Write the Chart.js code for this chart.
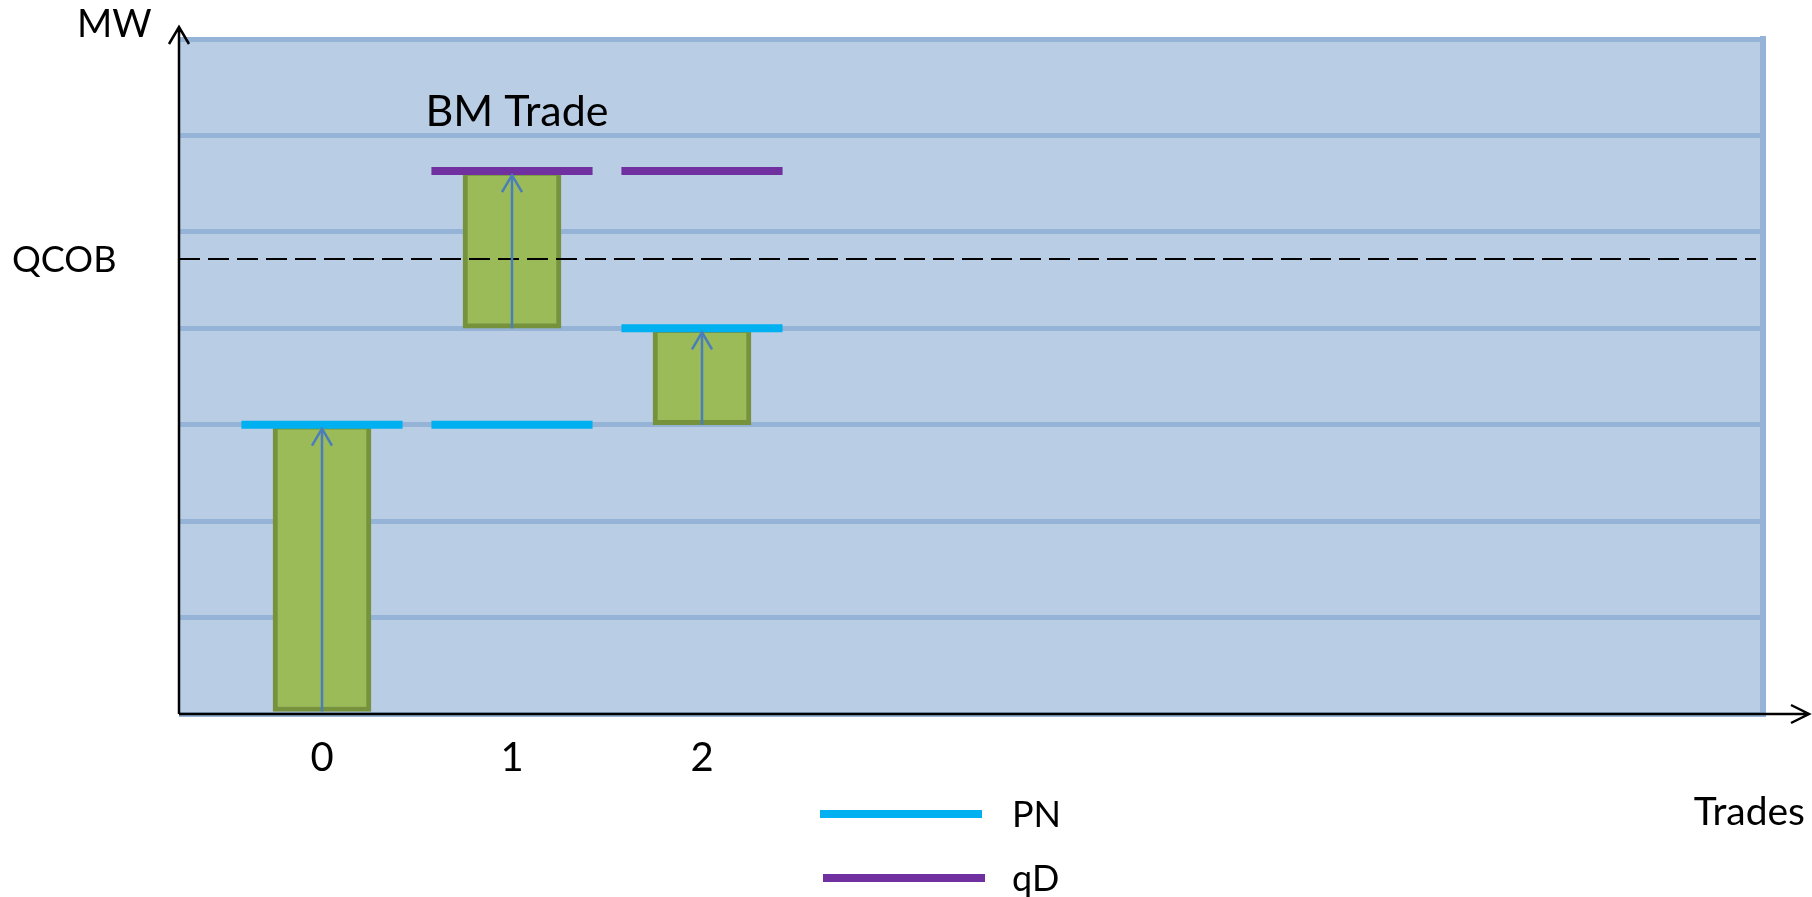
<!DOCTYPE html>
<html>
<head>
<meta charset="utf-8">
<script src="https://cdn.jsdelivr.net/npm/chart.js@4.4.1/dist/chart.umd.min.js"></script>
<style>
  html, body { margin: 0; padding: 0; background: #ffffff; }
</style>
</head>
<body>
<canvas id="trade-chart" width="1812" height="897"></canvas>
<script>
// data
const trades = [0, 1, 2];
const tickLabels = ['0', '1', '2'];
const pnValues = [3, 3, 4];
const qdValues = [null, 5.63, 5.63];
const bmLow = [0, 4, 3];
const bmHigh = [3, 5.63, 4];
const qcobLevel = 4.72;

// styles
const FONT = 'Lato';
const segHalf = 0.424;
const pnColor = '#00B0F0';
const qdColor = '#7030A0';

function segments(values) {
    const pts = [];
    trades.forEach((t, i) => {
        if (values[i] === null) return;
        pts.push({ x: t - segHalf, y: values[i] });
        pts.push({ x: t + segHalf, y: values[i] });
        pts.push({ x: t + 0.5, y: null });
    });
    return pts;
}

function text(ctx, str, x, y, size, align) {
    ctx.font = size + 'px ' + FONT;
    ctx.fillStyle = '#000000';
    ctx.textAlign = align || 'left';
    ctx.textBaseline = 'alphabetic';
    ctx.fillText(str, x, y);
}

const decorPlugin = {
    id: 'decor',
    beforeDraw(chart) {
        const { ctx, chartArea: a } = chart;
        ctx.save();
        ctx.fillStyle = '#ffffff';
        ctx.fillRect(0, 0, chart.width, chart.height);
        ctx.fillStyle = '#B9CDE5';
        ctx.fillRect(a.left, a.top, a.right - a.left, a.bottom - a.top);
        ctx.restore();
    },
    beforeDatasetsDraw(chart) {
        const { ctx, chartArea: a } = chart;
        ctx.save();
        ctx.strokeStyle = '#95B3D7';
        ctx.lineWidth = 6;
        ctx.beginPath();
        ctx.moveTo(a.right - 3, a.top - 3);
        ctx.lineTo(a.right - 3, a.bottom);
        ctx.stroke();
        ctx.restore();
    },
    afterDatasetsDraw(chart) {
        const { ctx, chartArea: a, scales } = chart;
        ctx.save();

        // QCOB dashed level
        const qy = Math.round(scales.y.getPixelForValue(qcobLevel));
        ctx.strokeStyle = '#000000';
        ctx.lineWidth = 2;
        ctx.setLineDash([21, 8]);
        ctx.beginPath();
        ctx.moveTo(a.left, qy);
        ctx.lineTo(a.right - 10, qy);
        ctx.stroke();
        ctx.setLineDash([]);

        // arrows inside BM trade bars
        const bars = chart.getDatasetMeta(0).data;
        ctx.strokeStyle = '#4A7EBB';
        ctx.lineWidth = 2.5;
        bars.forEach(bar => {
            const p = bar.getProps(['x', 'y', 'base'], true);
            const bottom = Math.max(p.y, p.base);
            const tip = Math.min(p.y, p.base) + 4;
            ctx.beginPath();
            ctx.moveTo(p.x, bottom);
            ctx.lineTo(p.x, tip);
            ctx.stroke();
            ctx.beginPath();
            ctx.moveTo(p.x - 10, tip + 17);
            ctx.lineTo(p.x, tip);
            ctx.lineTo(p.x + 10, tip + 17);
            ctx.stroke();
        });

        // axes with arrowheads
        ctx.strokeStyle = '#000000';
        ctx.lineWidth = 2.5;
        ctx.beginPath();
        ctx.moveTo(a.left, a.bottom);
        ctx.lineTo(a.left, 27);
        ctx.moveTo(a.left - 10, 44);
        ctx.lineTo(a.left, 27);
        ctx.lineTo(a.left + 10, 44);
        ctx.stroke();
        ctx.beginPath();
        ctx.moveTo(a.left, a.bottom);
        ctx.lineTo(1809, a.bottom);
        ctx.moveTo(1791, a.bottom - 9);
        ctx.lineTo(1809, a.bottom);
        ctx.lineTo(1791, a.bottom + 9);
        ctx.stroke();

        // labels
        text(ctx, 'MW', 77, 37, 38);
        text(ctx, 'QCOB', 12, qy + 13, 36);
        text(ctx, 'Trades', 1805, 825, 39, 'right');
        const b1 = bars[1].getProps(['x', 'y'], true);
        text(ctx, 'BM Trade', b1.x + 5, b1.y - 45, 43, 'center');

        // legend
        const lines = chart.data.datasets.filter(d => d.type === 'line');
        lines.forEach((d, i) => {
            const y = 814 + i * 64;
            ctx.strokeStyle = d.borderColor;
            ctx.lineWidth = 8;
            ctx.beginPath();
            ctx.moveTo(820 + i * 3, y);
            ctx.lineTo(982 + i * 3, y);
            ctx.stroke();
            text(ctx, d.label, 1012, y + 13, 36);
        });

        ctx.restore();
    }
};

const ctx = document.getElementById('trade-chart').getContext('2d');
const tradeChart = new Chart(ctx, {
    type: 'bar',
    data: {
        datasets: [{
            label: 'BM Trade',
            data: trades.map((t, i) => ({ x: t, y: [bmLow[i], bmHigh[i]] })),
            backgroundColor: '#9BBB59',
            borderColor: '#76923C',
            borderWidth: 5,
            borderSkipped: false,
            barThickness: 98,
            order: 2
        }, {
            type: 'line',
            label: 'PN',
            data: segments(pnValues),
            borderColor: pnColor,
            borderWidth: 8,
            pointRadius: 0,
            spanGaps: false,
            order: 1
        }, {
            type: 'line',
            label: 'qD',
            data: segments(qdValues),
            borderColor: qdColor,
            borderWidth: 8,
            pointRadius: 0,
            spanGaps: false,
            order: 1
        }]
    },
    options: {
        responsive: false,
        animation: false,
        events: [],
        layout: {
            padding: { left: 179, top: 39, right: 46, bottom: 95 }
        },
        plugins: {
            legend: { display: false },
            tooltip: { enabled: false }
        },
        scales: {
            x: {
                type: 'linear',
                offset: false,
                min: -0.7526,
                max: 7.6,
                afterBuildTicks: scale => {
                    scale.ticks = trades.map(v => ({ value: v }));
                },
                ticks: {
                    padding: 20,
                    color: '#000000',
                    font: { family: FONT, size: 40, lineHeight: 1.2 },
                    maxRotation: 0,
                    callback: (v) => tickLabels[trades.indexOf(v)]
                },
                grid: { display: false, drawTicks: false },
                border: { display: false }
            },
            y: {
                min: 0,
                max: 7,
                ticks: { display: false, stepSize: 1 },
                grid: { color: '#95B3D7', lineWidth: 5, drawTicks: false },
                border: { display: false }
            }
        }
    },
    plugins: [ decorPlugin ]
});
</script>
</body>
</html>
